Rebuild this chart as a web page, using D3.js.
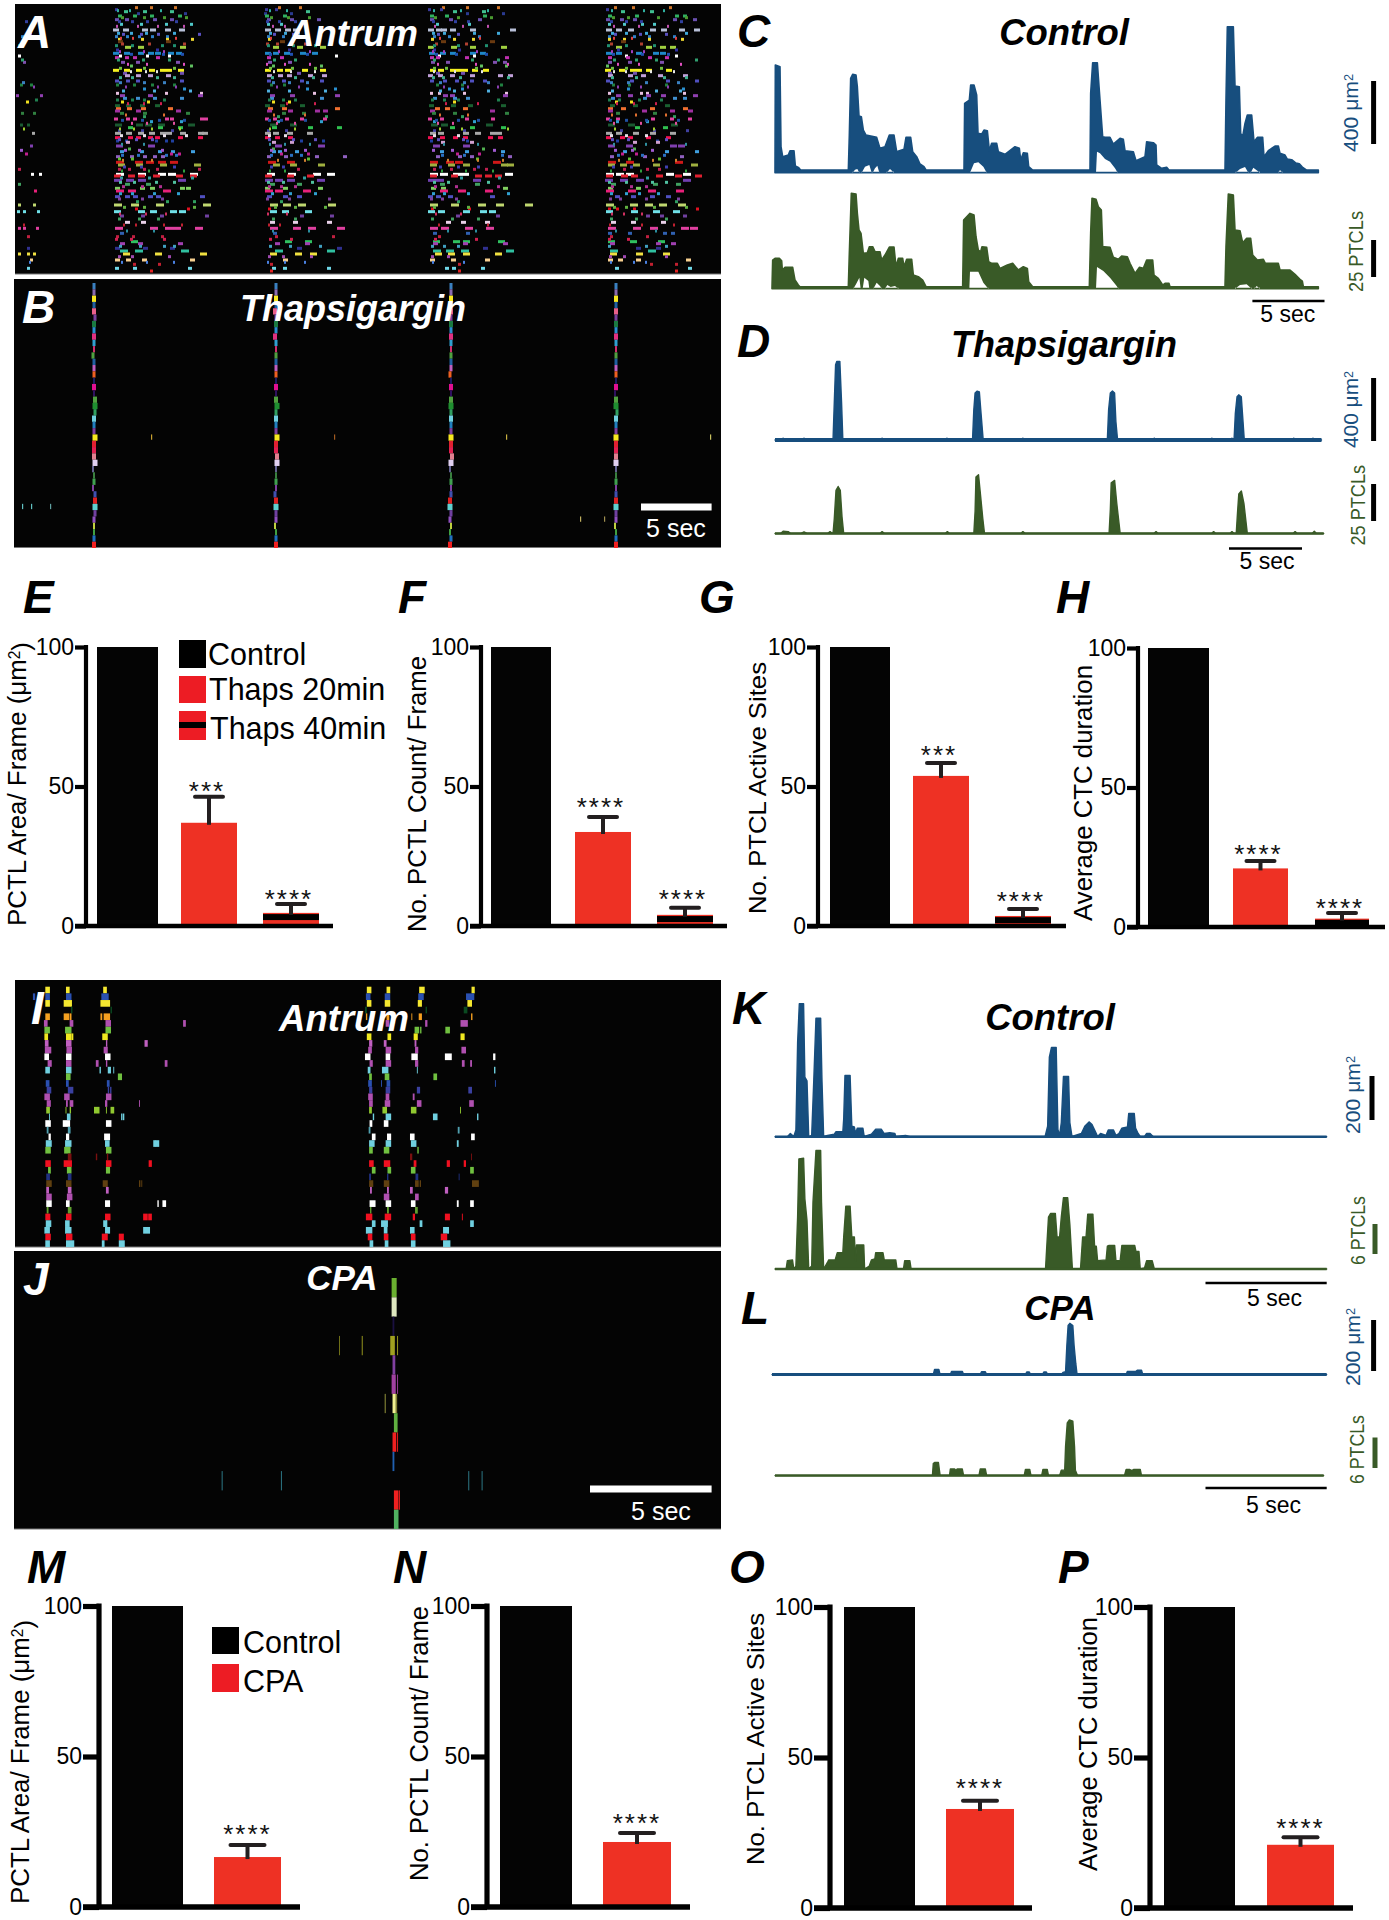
<!DOCTYPE html>
<html><head><meta charset="utf-8">
<script src="https://cdn.jsdelivr.net/npm/d3@7"></script>
<style>html,body{margin:0;background:#fff}svg{display:block}text{font-family:"Liberation Sans",Arial,sans-serif}</style>
</head><body><svg id="fig" width="1389" height="1920"></svg>
<script>
// ---------- Bar chart values (percent of control) ----------
const thapsGroups=['Control','Thaps 20min','Thaps 40min'];
const cpaGroups=['Control','CPA'];
const valuesE=[100,37,4.7], errorsE=[0,9.3,3.2], starsE=['','***','****'];
const valuesF=[100,33.7,4], errorsF=[0,5.4,2.5], starsF=['','****','****'];
const valuesG=[100,53.8,3.6], errorsG=[0,4.6,2.5], starsG=['','***','****'];
const valuesH=[100,21,3], errorsH=[0,2.7,2], starsH=['','****','****'];
const valuesM=[100,16.6], errorsM=[0,4], starsM=['','****'];
const valuesN=[100,21.6], errorsN=[0,3], starsN=['','****'];
const valuesO=[100,32.9], errorsO=[0,2.7], starsO=['','****'];
const valuesP=[100,21], errorsP=[0,2.5], starsP=['','****'];
const yTicks=[0,50,100];

// ---------- Traces: [frame, signal] ----------
const traceCarea=[[15,0],[16,320],[30,315],[33,75],[38,45],[55,50],[60,63],[72,63],[76,17],[85,13],[92,5],[235,5],[238,110],[242,280],[248,292],[258,290],[262,255],[267,167],[274,165],[280,125],[288,110],[320,103],[330,70],[345,75],[358,110],[372,110],[380,60],[388,63],[402,67],[408,103],[422,103],[428,60],[440,45],[450,23],[462,15],[468,5],[582,5],[584,205],[598,215],[602,260],[612,260],[620,230],[624,115],[635,113],[642,125],[652,123],[658,63],[665,85],[680,85],[685,60],[705,52],[735,75],[748,70],[752,35],[760,57],[772,55],[776,15],[788,5],[960,5],[962,235],[968,327],[982,327],[990,215],[998,105],[1005,103],[1020,103],[1030,83],[1050,100],[1060,97],[1065,63],[1090,60],[1098,33],[1125,45],[1130,90],[1150,87],[1158,80],[1160,20],[1175,10],[1190,13],[1197,5],[1365,5],[1368,215],[1372,435],[1390,435],[1395,257],[1408,255],[1412,115],[1418,105],[1425,145],[1432,170],[1445,170],[1452,90],[1462,103],[1478,103],[1482,45],[1495,63],[1515,77],[1525,77],[1530,55],[1545,50],[1552,38],[1565,36],[1578,26],[1588,24],[1597,14],[1610,5],[1645,5]];
const traceCcount=[[6,0],[8,83],[15,88],[28,88],[35,81],[37,53],[45,61],[68,61],[75,23],[85,8],[90,3],[235,3],[238,103],[244,283],[258,281],[262,223],[267,173],[273,163],[280,103],[292,105],[298,123],[308,123],[315,108],[330,108],[335,83],[345,98],[358,122],[372,122],[378,63],[385,88],[398,88],[402,63],[410,85],[425,85],[430,38],[445,33],[458,23],[468,3],[578,3],[581,203],[600,223],[612,218],[618,153],[625,113],[632,108],[636,123],[650,121],[656,78],[665,73],[682,73],[690,58],[712,68],[728,73],[745,53],[760,63],[772,58],[776,18],[788,3],[958,3],[962,163],[966,268],[978,265],[985,243],[994,233],[998,123],[1003,123],[1020,121],[1030,91],[1045,85],[1055,95],[1072,93],[1080,73],[1095,43],[1108,61],[1120,58],[1130,83],[1148,83],[1152,38],[1165,28],[1178,8],[1185,13],[1197,13],[1200,3],[1365,3],[1368,123],[1375,281],[1390,278],[1395,173],[1410,171],[1418,135],[1430,148],[1442,148],[1448,98],[1462,83],[1480,85],[1486,73],[1525,73],[1530,53],[1560,53],[1575,40],[1590,25],[1597,20],[1600,3],[1645,3]];
const notchCarea=[[[248,-3],[255,6],[262,8],[268,-3]],[[275,-3],[285,15],[298,20],[305,-3]],[[308,-3],[315,10],[322,18],[328,-3]],[[350,-3],[360,8],[372,-3]],[[600,-3],[612,25],[625,28],[640,15],[650,-3]],[[978,-3],[981,60],[990,55],[1005,38],[1020,30],[1035,10],[1043,-3]],[[1397,-3],[1410,8],[1425,14],[1435,-3]],[[1442,-3],[1450,12],[1470,-3]],[[1525,-3],[1530,5],[1537,-3]]];
const notchCcount=[[[250,-3],[258,10],[268,30],[272,-3]],[[278,-3],[283,30],[295,20],[298,-3]],[[310,-3],[320,15],[330,5],[335,-3]],[[345,-3],[352,8],[362,2],[375,5],[385,-3]],[[598,-3],[600,48],[625,48],[640,15],[655,-3]],[[978,-3],[981,62],[1000,50],[1020,30],[1040,5],[1045,-3]],[[1395,-3],[1410,8],[1430,10],[1445,-3]],[[1453,-3],[1460,5],[1470,-3]]];
const traceDarea=[[129,0],[146,0],[148,5],[150,0],[195,0],[197,5],[199,0],[265,0],[268,100],[271,200],[274,209],[281,209],[285,100],[288,0],[378,0],[380,5],[382,0],[530,0],[532,5],[534,0],[592,0],[595,80],[598,125],[603,130],[608,128],[612,70],[617,0],[708,0],[710,5],[712,0],[908,0],[911,80],[915,125],[920,130],[925,125],[928,50],[932,0],[1016,0],[1018,5],[1020,0],[1151,0],[1153,5],[1155,0],[1198,0],[1200,5],[1202,0],[1205,0],[1208,70],[1212,115],[1216,120],[1222,115],[1226,50],[1229,0],[1343,0],[1345,5],[1347,0],[1388,0],[1390,5],[1392,0],[1410,0]];
const traceDcount=[[129,0],[142,0],[148,6],[160,5],[166,0],[190,0],[197,4],[204,0],[252,0],[258,5],[264,0],[265,0],[268,40],[272,115],[277,125],[282,115],[286,45],[290,0],[375,0],[380,5],[386,0],[528,0],[533,5],[538,0],[595,0],[598,60],[600,150],[606,156],[610,110],[616,40],[620,0],[705,0],[710,5],[716,0],[912,0],[915,65],[917,135],[925,141],[930,80],[938,0],[1017,0],[1022,5],[1027,0],[1152,0],[1157,5],[1162,0],[1195,0],[1200,5],[1205,0],[1210,0],[1213,55],[1216,105],[1222,113],[1228,80],[1236,0],[1343,0],[1348,5],[1353,0],[1388,0],[1393,6],[1398,0],[1415,0]];
const traceKarea=[[129,0],[158,0],[165,9],[173,1],[178,19],[182,259],[186,366],[196,366],[199,164],[204,154],[208,0],[215,4],[220,159],[225,326],[236,326],[239,159],[243,1],[252,4],[268,7],[272,14],[288,14],[290,49],[293,169],[305,169],[309,29],[315,27],[318,9],[322,24],[335,24],[338,1],[355,7],[365,21],[378,21],[385,9],[398,11],[410,9],[412,1],[435,4],[445,1],[762,1],[768,29],[772,219],[777,246],[788,246],[792,20],[796,4],[800,39],[805,166],[817,166],[820,39],[825,1],[847,9],[855,29],[865,41],[872,34],[882,9],[885,1],[892,9],[905,4],[910,19],[922,19],[928,4],[935,9],[942,24],[955,27],[958,64],[971,64],[974,24],[980,9],[985,1],[995,1],[1000,9],[1008,9],[1015,1],[1422,0]];
const traceKcount=[[129,0],[155,0],[158,23],[170,25],[173,0],[178,8],[182,143],[185,303],[196,305],[199,193],[204,133],[208,0],[215,8],[218,183],[225,326],[236,326],[238,183],[243,0],[252,18],[255,25],[270,25],[275,45],[288,45],[290,88],[295,173],[305,173],[309,88],[315,88],[318,23],[320,66],[337,66],[339,0],[350,8],[355,25],[363,28],[365,45],[382,45],[385,25],[412,25],[415,0],[430,0],[433,23],[445,23],[448,0],[763,0],[766,63],[770,143],[775,153],[786,153],[790,88],[796,88],[800,143],[805,196],[815,196],[820,123],[826,0],[845,0],[850,88],[858,88],[862,151],[874,151],[878,63],[882,63],[885,23],[905,25],[908,63],[912,65],[925,65],[928,23],[938,23],[942,65],[972,65],[975,48],[982,48],[985,0],[995,3],[1000,23],[1013,23],[1018,0],[1422,0]];
const traceLarea=[[122,0],[500,0],[503,14],[513,14],[516,0],[540,0],[543,9],[553,9],[558,9],[568,9],[571,0],[610,0],[613,8],[622,8],[625,0],[716,0],[719,7],[725,7],[728,0],[756,0],[759,7],[765,7],[768,0],[800,0],[804,6],[810,8],[813,80],[816,135],[820,141],[827,135],[830,80],[834,30],[837,0],[952,0],[955,9],[975,9],[978,12],[988,12],[991,0],[1422,0]];
const traceLcount=[[129,0],[498,0],[500,33],[503,36],[512,36],[516,0],[538,0],[540,18],[550,18],[553,14],[556,18],[568,18],[571,0],[607,0],[610,18],[622,18],[625,0],[713,0],[716,17],[726,17],[729,0],[754,0],[757,17],[767,17],[770,0],[796,0],[800,15],[808,15],[810,80],[814,145],[819,153],[827,150],[831,80],[833,15],[838,0],[948,0],[952,17],[960,17],[965,14],[970,17],[985,17],[988,0],[1415,0]];

// ---------- Raster A: [site, colour, dash length, burst1, burst2, burst3, burst4, burst5] ----------
const rasterAbursts=[0,98,249,412,590];
const rasterA=[
[8,'#d0762a',3,[],[22,37,61],[14,35],[15,39,70],[9,27,64]],
[14,'#3a3a9a',3,[],[2],[1,11],[1,13],[1]],
[20,'#40c090',4,[],[11,30,57],[42],[26,55],[16,45]],
[26,'#2a3a90',3,[],[24,71],[0,26],[39,75],[]],
[33,'#30b060',4,[],[5,20,37,65],[1,19],[3,18,56],[3,30,70,78]],
[44,'#6a50b0',4,[22],[2,12,40,57],[3,26,53],[3,22,51],[1,15,28,68,88]],
[58,'#50c8c8',3,[],[7,27,52,77],[3,16],[9,41],[3,18,36,48]],
[75,'#b8c0d8',6,[],[0,10,29,37,52,66],[1,11,21,29],[1,9,14,23,43,83],[1,11,23,45,56,74,89]],
[95,'#2f80c8',3,[6],[2,13,25,38,53],[3,18],[6,21,51],[3,28,43,68]],
[103,'#f0d830',3,[],[5,28,53,78],[4],[4,26,45],[3,18,43,76]],
[110,'#6a3a10',5,[],[5,53],[16],[14,63],[16]],
[127,'#a0d040',6,[],[12,25,67],[9,33,56],[1,24,43,74],[11,41,55,65]],
[135,'#3030a0',3,[],[3,43],[24],[6,31],[12,70]],
[145,'#1f88c8',6,[],[0,11,25,35,42,55,63],[1,9,20,36,48],[2,13,23,43,53],[1,11,31,48,55]],
[153,'#ffffff',3,[3],[6,33,55],[71],[11,46],[20,70]],
[158,'#c030b0',4,[],[2,12,20,43],[3,16],[3,9,38,78],[3,21,43,60]],
[172,'#8050b0',4,[8],[8,23,63],[4,24],[4,19,66,76],[3,23,55]],
[183,'#60c060',3,[],[17,77],[8,56],[53,78],[1]],
[196,'#f5f020',6,[],[0,11,23,36,47,53,65],[1,13,21,38,56],[3,11,23,29,35,45,56],[0,14,25,31,41,61]],
[205,'#7050b0',4,[],[10,67],[33],[9,34],[3,28]],
[212,'#c0a0d8',5,[],[12,23,35,53],[3,14,23,44,58],[1,11,23,43,71,81],[3,23,36,53,78]],
[228,'#5050c0',4,[],[2,13,23,67],[3,18,36,56],[3,16,28,43,56],[1,25,61,90]],
[240,'#208040',3,[5,15],[3,20,38,60],[6,19],[9,34,73],[7,23,60]],
[252,'#2a90d0',3,[],[30,70],[42,70],[21,34],[22,77]],
[265,'#e8c0e0',3,[],[3,52,87],[49],[3,11,36,78],[3,35,41,78]],
[272,'#9040b0',5,[1,25],[7,35,85],[6,26,71],[16,23,76],[11,23,41,56,88]],
[280,'#4090d0',4,[],[10,23,40,67],[6,56],[6,26,39],[6,38,68,78]],
[291,'#f0e020',3,[11],[8,34],[8,24],[26],[10,25]],
[302,'#1a6030',5,[],[2,13,27,42],[1,16,36],[2,24,41,74],[5,28,60]],
[311,'#f07030',5,[],[3,14,28,55],[4,18,71],[8,18,36],[3,16,45,78]],
[318,'#a030a0',5,[],[2,23,63],[3,24,51,59],[3,63],[3,37,65,83]],
[325,'#308040',4,[6,18],[7,30,73],[18,38],[5,26,78],[11,48]],
[335,'#30a060',3,[],[30],[13,61],[34],[68]],
[342,'#e040a0',4,[],[1,13,20,52,57,87,91],[1,9,21,36,59],[1,13,38,64],[1,11,46,65,83]],
[350,'#30a0d0',3,[],[37,67],[13,56],[6,46],[11,41]],
[360,'#1a5a30',7,[5,12],[2,23,32,45,75],[6,26],[4,14,59],[3,23,66]],
[368,'#30c050',5,[],[15,45,65],[8,44,73],[23,43,74],[30,58]],
[377,'#4040a0',3,[],[5,28,58],[3,21],[6,36],[15,48,81]],
[385,'#a8a8a8',6,[17],[2,13,25,36,47,53,67,85,89],[1,9,23,43],[3,11,36,48,63,69],[1,11,28,45,65]],
[398,'#f01050',5,[],[2,15,23,35,42,65,85],[1,11,24],[1,13,26,36,61,71],[1,15,23,41,61]],
[408,'#2040a0',3,[],[3,12,42,52,58],[36,58],[3,39],[11,51]],
[412,'#d0a0d0',4,[],[13],[8,26],[14,43],[28,51]],
[423,'#8040b0',7,[15],[3,35],[11,54],[6,36],[3,21,65,73]],
[432,'#50b050',3,[],[15],[8],[55],[28]],
[440,'#40a0e0',4,[],[7,27,45,58,78],[8,14,31],[13,38,74],[18,60,90]],
[447,'#c02090',3,[10],[57,65],[16,43],[29,51],[16,30]],
[455,'#9060c0',4,[],[3,17,30,40,48],[3,20,51,79],[9,31,43,81],[5,38,75]],
[462,'#60c030',3,[],[5,18],[43],[49],[23,53]],
[472,'#d01818',8,[],[3,22,33,45,57],[4,23],[3,19,28,66],[3,21,70]],
[480,'#a0b040',7,[],[5,23,47,81],[9,26,54],[3,21,36,74,80],[3,15,28,48,86]],
[493,'#c02050',3,[3],[5,15,30,43,85],[33],[6,23,46,58],[18,41,53]],
[508,'#ffffff',8,[16,24],[3,25,45,55,77],[3,24,49,63],[3,13,26,34,78],[1,11,21,61,78]],
[513,'#e02030',7,[],[1,15,25,40,63,77],[1,23,43],[3,24,48,58,68],[1,16,26,51,70,90]],
[519,'#30a0a0',3,[],[7,35,78],[39],[33,71],[41]],
[526,'#7040b0',8,[],[1,13,25,65],[1,11,23,53],[1,9,46],[0,15,31,78]],
[538,'#40a060',5,[3],[12,33],[6,33],[13,48],[6,48,71]],
[550,'#80d060',5,[],[2,27,37,67,73],[1,19,54],[4,14,76],[3,31]],
[558,'#e8207a',8,[19],[3,15,50],[1,11,39],[13,31,58],[1,23,43,71]],
[575,'#5050c0',5,[],[2,12,20,35,43,87],[3,19,33],[1,9,21,63],[10,26,45,61]],
[590,'#30a060',3,[],[23,53,80],[16],[30],[70]],
[600,'#c0d870',8,[3,18],[1,18,43,90],[6,19,34,64],[3,24,51,69,98],[1,25,40,54,73]],
[612,'#e01020',3,[],[22,74],[4],[4,41],[3,11,28,91]],
[620,'#70e0e8',7,[2,8,22],[1,25,37,57,66],[6,18,41],[1,11,36,53,62],[1,26,48,68]],
[633,'#7040a0',4,[],[7,28,47,92],[36,66],[29,69],[41,55,78]],
[652,'#e8d0e8',5,[],[12,28],[6,29,63],[19,34,58],[6,26,56]],
[670,'#e040a0',8,[3,8,21],[2,37,52,60,82],[6,29,44,73],[3,14,38,59],[3,28,45,76,85]],
[685,'#3060b0',4,[],[7],[9],[6,39],[3,23,58,66]],
[695,'#c02040',3,[12],[3,19,48],[11,68],[11],[5,41]],
[710,'#30c060',7,[],[18],[21,41],[6,26,36,71],[3,25,53]],
[716,'#a040b0',5,[],[7,25,65],[11,41],[6,36,76],[5,51,66]],
[730,'#303090',5,[12],[2,30,57],[33,73],[56],[31,51]],
[738,'#30c0a0',8,[],[7,22,68],[11,63],[6,19,34,79],[5,43]],
[747,'#f0e040',7,[3,12,18],[10,42,87],[6,31,46],[8,21,36,68],[5,31,58]],
[765,'#f8d090',5,[15],[2,13,29,77],[19],[3,24,58],[3,13,31,81]],
[778,'#c02030',3,[],[20,45],[6],[31],[45,70]],
[790,'#70d8e8',4,[12],[2,20,75],[8,19,63],[18,25,54],[10,83]],
[798,'#e02020',3,[],[37],[6],[31],[70]],
[17,'#2fb0a0',2,[],[4,16,47],[5,22],[6,33,60],[6,38,58]],
[38,'#4a9a30',3,[],[8,30,50,72],[6,23,44],[7,30,63],[7,22,52,80]],
[50,'#3040a0',3,[10],[5,18,33,62],[2,14,30],[5,27,40],[5,20,35,75]],
[64,'#c050b0',2,[],[3,24,44,70],[8,20],[7,35,60],[8,33,62]],
[85,'#40a8d8',3,[],[4,17,32,60],[5,20,33],[5,16,46,70],[6,20,40,80]],
[88,'#5a50c0',3,[14],[9,27,44,85],[9,28],[10,30],[9,34,60]],
[100,'#e04040',2,[],[7,19,62],[6,30],[12,52],[8,26,70]],
[117,'#b04030',3,[],[8,35,70],[2,12,40],[8,38],[5,35]],
[122,'#208f70',3,[3],[2,18,48,60],[3,28,50],[6,30,58],[2,20,48]],
[140,'#a040c0',2,[],[6,30,50],[14,45],[5,16,49],[6,26,38]],
[148,'#2050b0',3,[],[17,49,68],[5,26,42],[8,28,58],[7,36,62]],
[165,'#30a070',3,[6],[4,29,55],[9,30],[6,44,70],[8,30,50,90]],
[178,'#e050c0',2,[],[14,33,70],[2,20,45],[10,48,80],[12,33,75]],
[190,'#70c040',3,[],[6,30,60],[5,27,50],[6,18,48],[6,20,55]],
[200,'#e8e8e8',2,[],[17,32,43],[9,26,50],[6,27,54],[8,20,45,68]],
[218,'#40b090',3,[],[6,18,43,60],[7,30,48],[5,15,32,80],[6,30,58,80]],
[233,'#3a80c0',3,[7],[6,30,50],[8,24,42],[12,36,60],[5,22,40,72]],
[246,'#8a3fb0',2,[18],[12,44,62],[12,34],[16,40,70],[12,35,62]],
[258,'#50b0e0',3,[],[9,40,76],[3,24,60],[12,26,60],[6,50,74]],
[285,'#208050',3,[20],[3,18,30,50],[4,18,30],[4,16,30,70],[3,13,33,55]],
[296,'#d02050',2,[],[14,30,47],[22,50],[18,50],[11,28,50]],
[330,'#e07030',2,[],[12,50],[9,40],[12,40],[6,30,60]],
[346,'#2050a0',3,[],[8,28,45,70],[4,16,40],[8,30,50],[4,20,40,72]],
[355,'#e050a0',2,[],[18,33,60],[12,30],[10,25],[8,35,70]],
[372,'#a0d030',2,[8],[6,20,38,66],[5,30],[12,34,80],[9,48]],
[392,'#e8e0e8',3,[],[7,30,50,72],[4,20],[6,30],[5,20,40]],
[404,'#6050c0',3,[],[5,22,38],[4,28,50],[10,35],[6,22,60]],
[418,'#3090a0',2,[],[8,30],[5,20,45],[16,50],[8,40,80]],
[436,'#a05ad0',3,[5],[11,25,48],[6,20,40],[5,24,66],[9,26,46]],
[451,'#2a70c0',3,[],[8,24,52,62],[6,26,36],[14,36,74],[12,36,58]],
[466,'#d08030',2,[],[9,38],[13,40],[20,50,75],[13,47,70]],
[486,'#4040b0',3,[],[10,27,60],[6,18],[12,30,50],[7,25,60]],
[498,'#30a040',2,[],[8,35,70],[5,20],[14,38,65],[5,35,80]],
[532,'#50c0a0',3,[],[6,20,42,60],[3,18,47],[6,20,60],[3,20,46,60]],
[545,'#b03090',3,[],[9,28,46],[4,16,30],[7,28,70],[6,25,40]],
[566,'#30a0d0',3,[],[6,18,40,64],[7,25,50],[5,16,40,80],[5,20,33,52]],
[582,'#8040a0',3,[],[5,28,48],[2,24,64],[3,14,28],[4,14,40,72]],
[607,'#60b040',3,[],[10,30,80],[10,30,60],[6,40],[8,20,48,80]],
[627,'#d03060',2,[],[6,32,52],[3,22],[8,33],[6,18,36]],
[642,'#40a060',3,[],[5,25,44],[8,30],[4,24,50],[5,30,60]],
[660,'#c02030',2,[8],[10,22,50,68],[4,15],[11,60],[4,36,68]],
[678,'#2a8fa0',2,[],[13,40],[8,44],[20,48],[10,50]],
[703,'#d02050',3,[],[2,17,50],[5,26],[7,48],[3,22]],
[724,'#40a0c0',3,[],[6,26,50,60],[5,25,55],[4,16,30],[3,40,60]],
[755,'#a04ab0',3,[],[5,18,55],[4,18,46],[4,20],[4,18,60]],
[772,'#4a80e0',2,[14],[8,33,60],[3,20,40],[5,36],[5,28,40]]
];

// ---------- Raster B ----------
const rasterBcolors=['#3a80c0','#8a6ab0','#f8e820','#2060a0','#e8608a','#7a40a0','#1a7a40','#2a90d0','#e03080','#30a0d0','#d03070','#50a040','#2060a0','#c060c0','#f06020','#1a1a60','#e01090','#301060','#50a040','#1f8f30','#30a060','#70d0e0','#2080c0','#8040a0','#f8e820','#e02030','#e02050','#e08090','#e0d0f0','#8080c0','#3a8040','#40a050','#8040a0','#4050b0','#e02020','#60d0d0','#7040a0','#9050c0','#c0d040','#40a040','#2070c0','#f02020'];
const rasterBwidths=[3,3,4,3,4,3,4,3,4,3,2,3,3,3,3,2,4,2,4,5,3,4,3,3,5,4,4,4,5,1.5,2,3,2,3,4,5,3,3,2,2,3,4];
const rasterBcolumnTimes=[79,261,436,601];
const rasterBjitter=[
[0,0,0,0,0,1,0,0,0,0,0,-1,0,0,0,0,0,0,1,1,1,0,0,0,1,0,0,0,1,-1,0,0,-1,1,1,1,1,0,0,0,0,0],
[0,0,0,0,-1,0,0,0,-1,0,0,0,0,0,0,0,0,0,0,1,0,0,0,0,1,0,0,1,1,0,0,0,0,-1,0,0,0,0,-1,0,0,0],
[0,0,0,0,0,0,0,0,0,0,0,0,0,0,-1,0,0,0,0,0,0,0,0,0,0,0,0,1,0,-1,0,0,0,0,-1,-1,0,-1,0,-1,0,-1],
[0,0,0,0,0,0,0,0,0,0,0,0,0,0,0,0,0,-1,0,0,1,0,0,0,0,0,0,0,0,0,0,0,0,0,0,0,0,0,-1,0,0,0]];
const rasterBsparse=[[136,24,'#c8a030'],[319,24,'#a05a20'],[491,24,'#c8b040'],[695,24,'#c8c060'],[7,35,'#60c0c0'],[16,35,'#60c0c0'],[35,35,'#60a0a0'],[565,37,'#c0b060'],[589,37,'#a09050']];

// ---------- Raster I: site colours, and [x, width] events per site ----------
const rasterIcolors=['#f5e830','#2a50b0','#f5e830','#0a4a20','#f5a020','#b050b0','#70c040','#f0e820','#c060c0','#b050b0','#ffffff','#b050b0','#70d0e0','#70c040','#2a50b0','#3a40a0','#b050b0','#b050b0','#90c830','#70d0e0','#ffffff','#50a0b0','#ffffff','#70d0e0','#70c040','#7a1010','#f01020','#70c040','#203080','#604010','#c060c0','#b050b0','#ffffff','#60a030','#f01020','#70d0e0','#70d0e0','#f01020','#70d0e0'];
const rasterIevents=[
[[99,10],[144,8],[225,8],[799,10],[842,8],[913,12],[1027,7]],
[[72,5],[99,10],[144,12],[221,16],[797,10],[838,12],[911,12],[1015,14],[1028,5]],
[[99,10],[139,18],[219,21],[799,10],[838,12],[910,9],[1018,10]],
[[155,3],[241,3],[795,4],[927,3],[1010,8]],
[[99,10],[139,12],[152,4],[219,4],[226,14],[797,3],[842,6],[896,2],[912,7],[1026,3]],
[[96,8],[152,8],[230,12],[399,6],[840,8],[926,5],[1003,16]],
[[97,12],[142,14],[230,12],[903,10],[915,3],[970,10]],
[[97,8],[144,12],[156,4],[223,12],[799,10],[844,8],[901,9],[1003,9]],
[[98,8],[144,12],[231,3],[315,7],[804,7],[836,6],[903,4]],
[[98,14],[145,12],[226,9],[802,8],[840,12],[904,7],[1005,10]],
[[97,10],[144,12],[229,12],[795,12],[840,10],[896,14],[969,15],[1074,5]],
[[104,9],[144,12],[209,6],[231,3],[359,6],[805,7],[840,12],[904,7],[1006,6],[1024,4]],
[[99,10],[144,12],[217,3],[235,7],[247,2],[801,6],[832,14],[908,2],[1076,3]],
[[144,10],[257,9],[804,6],[838,10],[944,8]],
[[100,8],[144,6],[233,6],[802,8],[830,2],[842,8],[1078,2]],
[[102,10],[148,12],[235,3],[240,3],[804,7],[840,10],[908,7],[1020,8]],
[[97,12],[140,12],[231,12],[802,10],[840,8],[899,4]],
[[102,9],[144,4],[152,8],[229,5],[303,2],[804,8],[838,12],[908,10],[1022,10]],
[[101,8],[143,2],[152,3],[205,12],[231,2],[241,8],[804,6],[833,10],[895,12],[1002,2]],
[[107,2],[146,8],[264,3],[268,3],[812,3],[840,12],[943,10],[1039,3]],
[[99,12],[137,16],[231,12],[805,6],[836,10]],
[[102,4],[148,6],[803,4],[997,4]],
[[106,5],[144,7],[227,13],[810,8],[843,9],[893,10],[1026,8]],
[[100,13],[142,14],[229,10],[334,6],[339,8],[804,12],[840,12],[895,12],[995,4]],
[[99,12],[140,14],[231,12],[804,8],[836,12],[909,3]],
[[148,8],[209,3],[233,3],[893,5],[1026,2]],
[[99,12],[139,18],[231,12],[324,7],[804,10],[836,14],[901,6],[973,7],[1010,5]],
[[105,6],[146,10],[231,9],[810,8],[844,8],[895,10],[1024,8]],
[[101,8],[148,8],[804,4],[843,3],[905,6],[999,2]],
[[101,12],[144,12],[224,11],[303,3],[308,2],[804,9],[836,12],[904,8],[914,3],[1028,15]],
[[101,6],[148,8],[231,6],[806,4],[843,4],[893,6],[969,7]],
[[101,12],[146,12],[836,12],[904,8]],
[[101,12],[144,8],[229,11],[343,3],[354,8],[805,13],[840,12],[895,10],[995,4],[1024,8]],
[[102,4],[148,8],[806,3],[843,4],[904,6]],
[[99,11],[144,12],[229,12],[312,10],[323,8],[797,14],[838,14],[899,5],[969,11],[1006,2]],
[[100,12],[142,10],[225,8],[231,3],[810,8],[830,15],[914,6],[1024,8]],
[[97,12],[142,14],[229,11],[312,15],[797,14],[836,8],[893,10],[965,13]],
[[99,12],[144,14],[222,13],[259,11],[801,10],[836,10],[895,10],[960,14]],
[[99,10],[144,18],[222,6],[259,13],[805,8],[838,8],[895,10],[965,16]]
];
// ---------- Raster J: [x, width, colour] per site ----------
const rasterJevents=[
[[853,11,'#6ab030']],
[[853,11,'#dfe8c0']],
[[855,4,'#1a1040']],
[[739,1.5,'#a0a020'],[788,2,'#a0a020'],[850,10,'#a0a020'],[865,2,'#a0a020']],
[[855,6,'#8040a0']],
[[853,9,'#a040a0'],[865,2,'#a040a0']],
[[838,2,'#a0a040'],[855,7,'#f0f090'],[863,2,'#a0a040']],
[[858,8,'#60b040']],
[[855,8,'#f02020'],[865,2,'#f02020']],
[[855,4,'#2060b0']],
[[483,2,'#308090'],[612,2,'#308090'],[1020,2,'#308090'],[1049,2,'#308090']],
[[858,10,'#f02020'],[869,2,'#f02020']],
[[858,10,'#50b060']]
];

// ---------- Drawing ----------
const svg=d3.select('#fig');
const BLACK='#040404', RED='#ee3124', LEGRED='#ed1c24', BLUE='#174e7e', GREEN='#395a27';
const layer=svg.append('g');

function txt(g,x,y,s,o={}){const t=g.append('text').attr('x',x).attr('y',y).text(s)
 .attr('font-size',o.size||22).attr('fill',o.fill||'#000').attr('text-anchor',o.anchor||'start');
 if(o.bold)t.attr('font-weight','bold'); if(o.italic)t.attr('font-style','italic');
 if(o.len)t.attr('textLength',o.len).attr('lengthAdjust','spacingAndGlyphs'); return t;}
const letter=(x,y,s,fill)=>txt(layer,x,y,s,{size:46,bold:true,italic:true,fill});
const heading=(x,y,s,fill,size)=>txt(layer,x,y,s,{size:size||36.5,bold:true,italic:true,fill,anchor:'middle'});

// raster backgrounds
[[15,4,706,270],[14,279,707,268.5],[15,980,706,267],[14,1251,707,278]].forEach(r=>{
 layer.append('rect').attr('x',r[0]).attr('y',r[1]).attr('width',r[2]).attr('height',r[3]).attr('fill',BLACK);
 layer.append('line').attr('x1',r[0]).attr('x2',r[0]+r[2]).attr('y1',r[1]+r[3]).attr('y2',r[1]+r[3]).attr('stroke','#777').attr('stroke-width',1);
});

// raster A
const axA=d3.scaleLinear().domain([0,705]).range([15,720]);
const ayA=d3.scaleLinear().domain([0,810]).range([5,275]);
const dashesA=rasterA.flatMap(r=>[3,4,5,6,7].flatMap((k,b)=>r[k].map(o=>({t:rasterAbursts[b]+o,y:r[0],c:r[1],l:b===0?Math.min(r[2],3):r[2]}))));
layer.append('g').selectAll('rect').data(dashesA).join('rect')
 .attr('x',d=>axA(d.t)).attr('y',d=>ayA(d.y)-1.5).attr('width',d=>axA(d.t+d.l)-axA(d.t)).attr('height',3).attr('fill',d=>d.c);

// raster B
const axB=d3.scaleLinear().domain([0,705]).range([15,720]);
const ayB=d3.scaleBand().domain(d3.range(42)).range([283,548]);
const dashesB=rasterBcolumnTimes.flatMap((t,c)=>rasterBcolors.map((col,i)=>({t:t+rasterBjitter[c][i],i,col,w:rasterBwidths[i]})));
layer.append('g').selectAll('rect').data(dashesB).join('rect')
 .attr('x',d=>axB(d.t)-d.w/2).attr('y',d=>ayB(d.i)).attr('width',d=>d.w).attr('height',ayB.bandwidth()).attr('fill',d=>d.col);
layer.append('g').selectAll('rect').data(rasterBsparse).join('rect')
 .attr('x',d=>axB(d[0])).attr('y',d=>ayB(d[1])).attr('width',1.2).attr('height',ayB.bandwidth()-1).attr('fill',d=>d[2]);

// raster I
const axI=d3.scaleLinear().domain([33,1568]).range([15,720]);
const ayI=d3.scaleBand().domain(d3.range(39)).range([986.7,1247]);
const dashesI=rasterIevents.flatMap((ev,i)=>ev.map(e=>({x:e[0],w:e[1],i,c:rasterIcolors[i]})));
layer.append('g').selectAll('rect').data(dashesI).join('rect')
 .attr('x',d=>axI(d.x)).attr('y',d=>ayI(d.i)).attr('width',d=>axI(d.x+d.w)-axI(d.x)).attr('height',ayI.bandwidth()).attr('fill',d=>d.c);

// raster J
const ayJ=d3.scaleBand().domain(d3.range(13)).range([1278,1529]);
const dashesJ=rasterJevents.flatMap((ev,i)=>ev.map(e=>({x:e[0],w:e[1],c:e[2],i})));
layer.append('g').selectAll('rect').data(dashesJ).join('rect')
 .attr('x',d=>axI(d.x)).attr('y',d=>ayJ(d.i)).attr('width',d=>axI(d.x+d.w)-axI(d.x)).attr('height',ayJ.bandwidth()).attr('fill',d=>d.c);

// white scale bars
[[641,711.6,507,676,537],[590,711.6,1489,661,1520]].forEach(s=>{
 layer.append('line').attr('x1',s[0]).attr('x2',s[1]).attr('y1',s[2]).attr('y2',s[2]).attr('stroke','#fff').attr('stroke-width',7);
 txt(layer,s[3],s[4],'5 sec',{size:25,fill:'#fff',anchor:'middle'});
});

// traces
function trace(data,notches,color,o){
 const x=d3.scaleLinear().domain(o.xd).range(o.xr);
 const y=d3.scaleLinear().domain([0,1]).range([o.base,o.base-o.ky]);
 const low=o.low||0;
 const area=d3.area().x(d=>x(d[0])).y0(y(low)).y1(d=>y(d[1]));
 layer.append('path').attr('d',area(data)).attr('fill',color).attr('stroke',color).attr('stroke-width',o.sw==null?1.6:o.sw).attr('stroke-linejoin','round');
 if(o.bw) layer.append('line').attr('x1',x(data[0][0])).attr('x2',x(data[data.length-1][0])).attr('y1',o.base).attr('y2',o.base).attr('stroke',color).attr('stroke-width',o.bw);
 (notches||[]).forEach(n=>layer.append('path').attr('d',d3.area().x(d=>x(d[0])).y0(y(low)-1).y1(d=>y(d[1]))(n)).attr('fill','#fff'));
}
const cOpt={xd:[0,1560],xr:[770,1290],ky:1/3,low:-3};
trace(traceCarea,notchCarea,BLUE,{...cOpt,base:171.7});
trace(traceCcount,notchCcount,GREEN,{...cOpt,base:287.7});
const dX={xd:[129,1410],xr:[775,1321.5]};
trace(traceDarea,[],BLUE,{...dX,base:440,ky:1/2.658,bw:4,sw:1.4});
trace(traceDcount,[],GREEN,{xd:[129,1415],xr:[775,1323.7],base:533.5,ky:1/2.658,bw:2.5,sw:1.4});
const kX={xd:[129,1422],xr:[775,1326.7],ky:1/2.751};
trace(traceKarea,[],BLUE,{...kX,base:1136.8,bw:2.5,sw:1.4});
trace(traceKcount,[],GREEN,{...kX,base:1269,bw:2.5,sw:1.4});
trace(traceLarea,[],BLUE,{xd:[122,1422],xr:[772,1326.7],ky:1/2.751,base:1374.6,bw:3,sw:1.4});
trace(traceLcount,[],GREEN,{xd:[129,1415],xr:[775,1323.7],ky:1/2.751,base:1475.6,bw:2.5,sw:1.4});

// rotated labels
function rot(cx,y1,y2,parts,o){
 const g=layer.append('text').attr('transform',`translate(${cx},${(y1+y2)/2}) rotate(-90)`).attr('text-anchor','middle').attr('dy','.35em')
  .attr('font-size',o.size).attr('fill',o.fill||'#000').attr('textLength',Math.abs(y1-y2)).attr('lengthAdjust','spacingAndGlyphs');
 parts.forEach(p=>{ if(typeof p==='string') g.append('tspan').text(p);
   else { g.append('tspan').attr('dy','-.42em').attr('font-size',o.size*.6).text(p.sup);
          g.append('tspan').attr('dy','.42em').text(p.after||''); } });
}
const traceScales=[
 {t:['400 μm',{sup:'2'}],c:BLUE,tx:1351,ty:[152,74],bar:[1373.6,81,144],bc:'#000'},
 {t:['25 PTCLs'],c:GREEN,tx:1355.6,ty:[292,211],bar:[1373.6,240,277],bc:'#000'},
 {t:['400 μm',{sup:'2'}],c:BLUE,tx:1351,ty:[448,371],bar:[1373.6,378,441],bc:'#000'},
 {t:['25 PTCLs'],c:GREEN,tx:1358,ty:[545.5,465],bar:[1373.6,484,521],bc:'#000'},
 {t:['200 μm',{sup:'2'}],c:BLUE,tx:1352.7,ty:[1134,1056],bar:[1372,1076,1120],bc:'#000'},
 {t:['6 PTCLs'],c:GREEN,tx:1358,ty:[1265,1196],bar:[1375,1224,1254],bc:GREEN},
 {t:['200 μm',{sup:'2'}],c:BLUE,tx:1352.7,ty:[1386,1308],bar:[1373.6,1320,1371],bc:'#000'},
 {t:['6 PTCLs'],c:GREEN,tx:1356.5,ty:[1484,1415],bar:[1375,1437.5,1468],bc:GREEN}];
traceScales.forEach(s=>{
 rot(s.tx,s.ty[0],s.ty[1],s.t,{size:21,fill:s.c});
 layer.append('line').attr('x1',s.bar[0]).attr('x2',s.bar[0]).attr('y1',s.bar[1]).attr('y2',s.bar[2]).attr('stroke',s.bc).attr('stroke-width',5);
});
[[1252.4,1324.5,301,1288.7,322],[1229,1302,548.5,1268,569],[1205.5,1326.7,1283,1275.5,1306],[1205.5,1326.7,1488,1274.6,1513]].forEach(s=>{
 layer.append('line').attr('x1',s[0]).attr('x2',s[1]).attr('y1',s[2]).attr('y2',s[2]).attr('stroke','#000').attr('stroke-width',2.5);
 txt(layer,s[3]-1,s[4],'5 sec',{size:23,anchor:'middle'});
});

// bar charts
function barChart(values,errors,stars,L){
 const g=layer.append('g');
 const y=d3.scaleLinear().domain([0,100]).range([L.y0,L.y100]);
 const axis=d3.axisLeft(y).tickValues(yTicks).tickSize(L.tick).tickPadding(1).tickSizeOuter(0);
 const a=g.append('g').attr('transform',`translate(${L.ax},0)`).call(axis);
 a.select('.domain').attr('stroke','#000').attr('stroke-width',L.lw).attr('d',`M0,${L.y100-L.lw/2}V${L.y0}`);
 a.selectAll('.tick line').attr('stroke','#000').attr('stroke-width',L.lw);
 a.selectAll('.tick text').attr('font-size',23).attr('font-family','"Liberation Sans"').attr('fill','#000');
 const xAxisScale=d3.scaleLinear().domain([0,1]).range([L.ax-L.tick,L.xEnd]);
 values.forEach((v,i)=>{
  const [x0,x1]=L.bars[i], cx=(x0+x1)/2;
  const fill=i===0?BLACK:RED;
  g.append('rect').attr('x',x0).attr('width',x1-x0).attr('y',y(v)).attr('height',y(0)-y(v)).attr('fill',fill);
  if(i===2) g.append('rect').attr('x',x0).attr('width',x1-x0).attr('y',y(v)+1.2).attr('height',L.band).attr('fill','#000');
  if(errors[i]){
   const capY=y(v+errors[i]);
   g.append('line').attr('x1',cx).attr('x2',cx).attr('y1',capY).attr('y2',y(v)+2).attr('stroke','#231f20').attr('stroke-width',4);
   g.append('line').attr('x1',cx-L.cap).attr('x2',cx+L.cap).attr('y1',capY).attr('y2',capY).attr('stroke','#231f20').attr('stroke-width',4).attr('stroke-linecap','round');
   g.append('text').attr('x',cx+L.sdx).attr('y',L.starY[i]+12.5).attr('text-anchor','middle').attr('font-size',26).attr('letter-spacing',2).attr('fill','#111').text(stars[i]);
  }
 });
 g.append('line').attr('x1',xAxisScale(0)).attr('x2',xAxisScale(1)).attr('y1',L.y0).attr('y2',L.y0).attr('stroke','#000').attr('stroke-width',L.lw+.5);
 return y;
}
const topCfg={y100:647,y0:926,tick:11,lw:4.2,cap:14,sdx:-2,band:6};
barChart(valuesE,errorsE,starsE,{...topCfg,ax:86,xEnd:333,bars:[[97,158],[181,237],[263,319]],starY:[0,787,895]});
barChart(valuesF,errorsF,starsF,{...topCfg,ax:481,xEnd:727,bars:[[491,551],[575,631],[657,713]],starY:[0,803,895]});
barChart(valuesG,errorsG,starsG,{...topCfg,ax:818,xEnd:1066,bars:[[830,890],[913,969],[995,1051]],starY:[0,751,897]});
barChart(valuesH,errorsH,starsH,{...topCfg,y100:648,y0:927,ax:1138,xEnd:1385,bars:[[1148,1209],[1233,1288],[1315,1369]],starY:[0,850,904],band:8});
const botCfg={y100:1606,y0:1907,tick:16,lw:5.2,cap:17,sdx:0,band:0};
barChart(valuesM,errorsM,starsM,{...botCfg,ax:99,xEnd:300,bars:[[112,183],[214,281]],starY:[0,1830]});
barChart(valuesN,errorsN,starsN,{...botCfg,ax:487,xEnd:690,bars:[[500,572],[603,671]],starY:[0,1819]});
barChart(valuesO,errorsO,starsO,{...botCfg,y100:1607,y0:1908,ax:830,xEnd:1032,bars:[[844,915],[946,1014]],starY:[0,1784]});
barChart(valuesP,errorsP,starsP,{...botCfg,y100:1607,y0:1908,ax:1150,xEnd:1353,bars:[[1164,1235],[1267,1334]],starY:[0,1824]});

// y labels
const lab=['PCTL Area/ Frame (μm',{sup:'2',after:')'}];
rot(17,926,642,lab,{size:26});
rot(417,932,656,['No. PCTL Count/ Frame'],{size:26.5});
rot(757,914,662,['No. PTCL Active Sites'],{size:24.5});
rot(1083,921,665,['Average CTC duration'],{size:25.6});
rot(20,1904,1620,lab,{size:26});
rot(419,1881,1606,['No. PCTL Count/ Frame'],{size:26.5});
rot(755,1865,1613,['No. PTCL Active Sites'],{size:24.5});
rot(1088,1871,1617,['Average CTC duration'],{size:25.4});

// legends
const sw=(x,y,w,h,c)=>layer.append('rect').attr('x',x).attr('y',y).attr('width',w).attr('height',h).attr('fill',c);
sw(179,640,27,28,'#000'); sw(179,676,27,27,LEGRED); sw(179,711,27,29,LEGRED); sw(179,722,27,6,'#000');
txt(layer,208,665,thapsGroups[0],{size:30.5});
txt(layer,209,700,thapsGroups[1],{size:30.5});
txt(layer,210,739,thapsGroups[2],{size:30.5});
sw(212,1627,27,27,'#000'); sw(212,1664,27,28,LEGRED);
txt(layer,243,1653,cpaGroups[0],{size:30.5});
txt(layer,243,1692,cpaGroups[1],{size:30.5});

// titles
heading(353,46,'Antrum','#fff'); heading(353,321,'Thapsigargin','#fff',36);
heading(1064,45,'Control'); heading(1064,357,'Thapsigargin',null,36);
heading(344,1031,'Antrum','#fff'); heading(342,1290,'CPA','#fff',35);
heading(1050,1030,'Control'); heading(1060,1320,'CPA',null,35);

// panel letters
[['A',18,48,'#fff'],['B',22,323,'#fff'],['C',737,47],['D',737,357],['E',23,613],['F',398,613],['G',699,613],['H',1056,613],
 ['I',31,1024,'#fff'],['J',23,1295,'#fff'],['K',732,1024],['L',741,1324],['M',27,1583],['N',393,1583],['O',729,1583],['P',1058,1583]]
 .forEach(l=>letter(l[1],l[2],l[0],l[3]));
</script></body></html>
